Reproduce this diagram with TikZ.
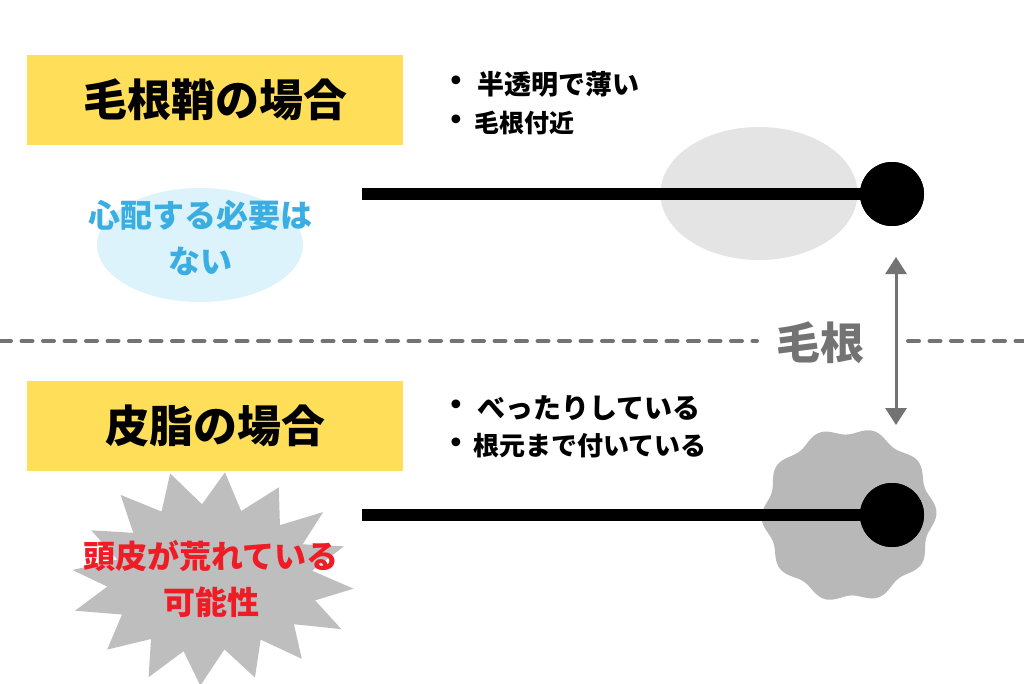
\documentclass[tikz,border=0pt]{standalone}
\usepackage{fontspec}
\setmainfont{Noto Sans CJK JP}
\newfontfamily\symfont{DejaVu Sans}
\usetikzlibrary{arrows.meta,shapes.geometric}
\definecolor{ybox}{HTML}{FFDE59}
\definecolor{sheath}{HTML}{E4E4E4}
\definecolor{lblue}{HTML}{DDF3FB}
\definecolor{btext}{HTML}{3AAEE2}
\definecolor{rtext}{HTML}{EE1C25}
\definecolor{burst}{HTML}{BEBEBE}
\definecolor{blob}{HTML}{B8B8B8}
\definecolor{guide}{HTML}{737373}
\begin{document}
\begin{tikzpicture}[x=1pt,y=-1pt,
  titlebox/.style={fill=ybox, minimum width=376, minimum height=90, inner sep=0, font=\fontsize{44}{50}\selectfont\bfseries},
  bullettext/.style={anchor=west, inner sep=0, font=\fontsize{#1}{#1}\selectfont\bfseries},
  bulletdot/.style={inner sep=0, font=\symfont\fontsize{30}{30}\selectfont},
  hairline/.style={line width=12, black},
  rootball/.style={circle, fill=black, minimum size=64, inner sep=0},
  dashline/.style={guide, line width=4, line cap=round, dash pattern=on 11 off 10.5},
  note/.style={align=center, inner sep=0, font=\fontsize{32}{46}\selectfont\bfseries}
]
\useasboundingbox (0,0) rectangle (1024,683);
\clip (0,0) rectangle (1024,683);
\fill[white] (0,0) rectangle (1024,683);

% divider
\coordinate (d1) at (0,341);
\coordinate (d2) at (757,341);
\coordinate (d3) at (908,341);
\coordinate (d4) at (1030,341);
\draw[dashline] (d1) -- (d2);
\draw[dashline] (d3) -- (d4);

% starburst
\fill[burst] plot[samples at={0,11.25,...,350}]
  ({213+(122+19*cos(16*\x)+4*sin(37*\x))*cos(\x+5)},
   {579+(90+17*cos(16*\x)+4*cos(29*\x))*sin(\x+5)}) -- cycle;
\node[note, text=rtext] (n2) at (211,579) {頭皮が荒れている\\可能性};

% title boxes
\node[titlebox] (t1) at (215,100) {毛根鞘の場合};
\node[titlebox] (t2) at (215,426) {皮脂の場合};

% bullets top
\node[bulletdot] (p1) at (456,84) {•};
\node[bullettext=27] (b1) at (477,84) {半透明で薄い};
\node[bulletdot] (p2) at (456,123) {•};
\node[bullettext=25] (b2) at (474,123) {毛根付近};

% bullets bottom
\node[bulletdot] (p3) at (456,408) {•};
\node[bullettext=28] (b3) at (477,408) {べったりしている};
\node[bulletdot] (p4) at (456,446) {•};
\node[bullettext=26] (b4) at (473,446) {根元まで付いている};

% top hair
\fill[sheath] (759,193.5) ellipse [x radius=98.5, y radius=66.5];
\node[rootball] (c1) at (892,194) {};
\coordinate (h1) at (362,194);
\draw[hairline] (h1) -- (c1.center);
\node[rootball] at (c1) {};

% blue note
\fill[lblue] (200,245) ellipse [x radius=103, y radius=57];
\node[note, text=btext] (n1) at (200,238) {心配する必要は\\ない};

% bottom hair
\fill[blob] plot[domain=0:360, samples=240, smooth cycle]
  ({849+(84+3.5*cos(10*\x+18))*cos(\x)}, {515+(84+3.5*cos(10*\x+18))*sin(\x)});
\node[rootball] (c2) at (892,515) {};
\coordinate (h2) at (362,515);
\draw[hairline] (h2) -- (c2.center);
\node[rootball] at (c2) {};

% root label and arrow
\node[inner sep=0, text=guide, font=\fontsize{44}{50}\selectfont\bfseries] (lbl) at (820,343) {毛根};
\coordinate (a1) at (896,257);
\coordinate (a2) at (896,425);
\draw[guide, line width=3, {Triangle[length=17, width=21]}-{Triangle[length=17, width=21]}] (a1) -- (a2);
\end{tikzpicture}
\end{document}
